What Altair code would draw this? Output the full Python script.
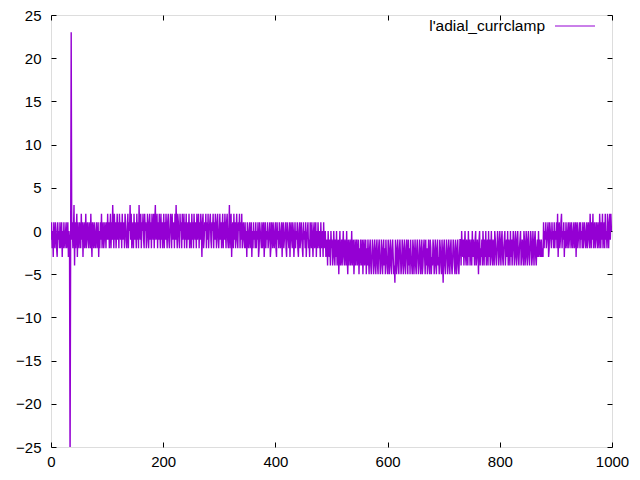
import altair as alt
import pandas as pd

# sample values (x = sample index 0..999)
seg_a = [-1, 1, -2, 0, -3, 1, -1, -2, 1, 0, -2, -3, 1, -1, 0, -2, 1, -2, -1, 1,
         -3, 0, -2, 1, -1, -2, 0, 1, -2, -1, 1, -3, 0, -1]
spike = [-27, -2, 23]
seg_b = [-1, 1, -2, 0, 3, -4, 1, -2, 0, 2, -3, 1, -1, -2, 1, 0, -2, 2, -1, 1,
         -3, 0, 1, -2, -1, 2, -2, 0, 1, -1, -2, 1, 0, -2, 2, -1, -3, 1, 0, -2,
         1, -1, -2, 0, 1, -2, -1, 1, -3, 0, -2, 1, -1, 2, -2, 0, 1, -2, -1, 1,
         0, -2, 1, -1]
seg_c = [2, -1, 1, -2, 0, 2, -2, 1, -1, 3, 0, -2, 2, -1, 1, -2, 0, 2, -1, 1,
         -2, 2, 0, -1, 1, -2, 2, -1, 0, 1, -2, 2, 1, -1, -2, 0, 2, -2, 1, 0,
         3, -1, 2, -2, 0, 1, -2, 2, -1, 1, 0, -2, 2, -1, 1, -2, 3, 0, -1, 2,
         -2, 1, 0, 2, -1, -2, 2, 0, 1, -2, -1, 2, 1, -2, 0, 2, -1, 1, -2, 2,
         0, -1, 2, -2, 1, 3, -1, 0, 2, -2, 1, -1, 2, 0, -2, 2, -1, 1, -2, 0,
         2, -2, 1, -1, 2, 0, -2, 1, 2, -1, -2, 0, 2, 1, -2, 2, -1, 0, 1, -2,
         2, -1, 3, 0, -2, 2, 1, -1, -2, 2, 0, 1, -2, 2, -1, 0, 2, -2, 1, -1,
         2, -2, 0, 1, -1, 2, -2, 1, 0, -2, 2, -1, 1, -2, 2, 0, -1, 1, -2, 2,
         -1, 0, 2, -2, 1, -1, 2, 0, -3, 1, 2, -2, -1, 1, 0, 2, -2, 1, -1, 2,
         -2, 0, 1, 2, -1, -2, 1, 0, 2, -2, 1, -1, 2, 0, -2, 1, 2, -1, -2, 0,
         2, -1, 1, -2, 0, 2, -2, 1, -1, 2, 0, -2, 1, 2, -1, -2, 0, 3, -2, 1,
         2, -3, 0, 1, -2, 2, -1, 1, -2, 0, 2, -1, -2, 1, 0, 2, -2, 1, -1, 2,
         -2, 0, 1, -1, -2]
seg_d = [1, -2, 0, -3, 1, -1, -2, 0, 1, -2, -1, 1, -3, 0, -2, 1, -1, 0, -2, 1,
         -2, 0, -1, 1, -3, -2, 1, 0, -1, -2, 1, -2, 0, 1, -3, -1, 1, -2, 0, -1,
         1, -2, -1, 0, 1, -3, -2, 1, 0, -2, 1, -1, -2, 0, 1, -2, -3, 1, -1, 0,
         -2, 1, 0, -2, -1, 1, -3, 0, 1, -2, -1, 0, 1, -2, -3, 1, 0, -1, -2, 1,
         -3, 0, 1, -1, -2, 1, 0, -3, -1, 1, -2, 0, -1, 1, -2, -3, 0, 1, -2, -1,
         1, 0, -2, -3, 1, -1, 0, -2, 1, -3, -1, 0, 1, -2, -1, -3, 1, 0, -2, 1,
         -1, -3, 0, 1, -2, -1, 1, -3, 0, -2, 1, -1, -2, 0, -3, 1, -2, -1, 0, -3,
         1, -2, -1, 0, -3, -2]
seg_e = [-1, -4, 0, -2, -3, -1, -4, 0, -2, -1, -4, -3, 0, -2, -4, -1, -3, 0, -4, -2,
         -1, -5, -2, 0, -4, -3, -1, -4, -2, 0, -3, -4, -1, -2, -4, 0, -3, -5, -1, -4,
         -2, -1, -4, -3, 0, -4, -2, -1, -5, -3, -1, -4, -2, -1, -4, -3, -1, -5, -2, -4,
         -1, -3, -4, -1, -5, -2, -1, -4, -3]
seg_f = [-1, -5, -2, -4, -1, -3, -5, -2, -1, -4, -5, -3, -1, -2, -5, -4, -1, -3, -5, -2,
         -1, -4, -5, -2, -1, -3, -5, -4, -1, -2, -5, -3, -1, -4, -2, -5, -1, -3, -4, -5,
         -1, -2, -5, -3, -1, -4, -5, -2, -1, -3, -5, -4, -6, -1, -3, -5, -2, -1, -4, -5,
         -2, -1, -3, -5, -4, -1, -2, -5, -3, -1, -4, -5, -2, -1, -3, -5, -1, -4, -2, -5,
         -1, -3, -4, -5, -1, -2, -5, -3, -1, -4, -5, -2, -1, -3, -5, -4, -1, -2, -5, -3,
         -1, -5, -4, -2, -1, -3, -5, -1, -4, -2, -5, -3, -1, -4, -5, -1, -2, -5, -3, -4,
         -1, -2, -5, -4, -1, -3, -5, -2, -1, -4, -3, -5, -1, -2, -4, -5, -1, -3, -6, -2,
         -1, -4, -5, -3, -1, -2, -5, -4, -1, -3, -5, -2, -1, -4, -5, -3, -1, -2, -4, -5,
         -1, -3, -5, -2, -1, -4, -5, -3, -1]
seg_g = [-1, -4, 0, -2, -3, -1, -4, -2, 0, -3, -4, -1, -2, -4, 0, -3, -1, -4, -2, -1,
         -4, 0, -3, -1, -2, -4, -1, 0, -4, -3, -1, -2, -5, -1, 0, -4, -2, -3, -1, -4,
         0, -2, -4, -1, -3, 0, -4, -2, -1, -4, 0, -3, -1, -4, -2, 0, -3, -4, -1, -2,
         -4, 0, -1, -3, -4, -2, 0, -1, -4, -3, 0, -2, -4, -1, 0, -3, -4, -2, -1, 0,
         -4, -2, -1, -3, 0, -4, -1, -2, -4, 0, -3, -1, -4, -2, 0, -1, -4, -3, 0, -2,
         -4, -1, 0, -3, -4, -2, -1, 0, -4, -3, -1, -2, -4, 0, -1, -4, -3, 0, -2, -4,
         -1, 0, -3, -4, -2, 0, -1, -4, -3, 0, -2, -4, -1, 0, -3, -4, -2, -1, -3, 0,
         -3, -1, -2, -3, -1, -3, -2, -3]
seg_h = [1, -2, 0, -1, 1, -2, -1, 0, 1, -3, -2, 1, 0, -1, -2, 1, -1, 0, -2, 1,
         -2, 0, -1, 1, -2, 2, -3, 0, 1, -2, -1, 1, 2, -2, 0, -1, 1, -3, 0, -2,
         1, -1, -2, 0, 1, -2, -1, 1, 0, -2, 1, -1, -2, 0, 1, -2, -1, 1, -3, 0,
         1, -2, -1, 0, 1, -2, 1, -1, 0, -2, 1, -2, -1, 1, 0, -2, -1, 1, -2, 0,
         1, -1, -2, 2, 0, -2, 1, -1, 2, -2, 0, 1, -2, -1, 1, 0, -2, 1, -1, -2,
         2, 0, -2, 1, -1, 2, -2, 0, 1, -2, 2, -1, 0, -2, 2, 1, -2, 0, 2, -1,
         2, 0]

values = seg_a + spike + seg_b + seg_c + seg_d + seg_e + seg_f + seg_g + seg_h
df = pd.DataFrame({"x": list(range(len(values))), "y": values})

x_ticks = [0, 200, 400, 600, 800, 1000]
y_ticks = [-25, -20, -15, -10, -5, 0, 5, 10, 15, 20, 25]
series_name = "l'adial_currclamp"
line_color = "#9400D3"

W, H = 561, 432
FONT = "Liberation Sans"
FS = 15

xs = alt.Scale(domain=[0, 1000], nice=False, zero=False)
ys = alt.Scale(domain=[-25, 25], nice=False, zero=False)


def lab_axis(orient, vals, pad):
    return alt.Axis(orient=orient, values=vals, ticks=False, tickSize=0, domain=False,
                    grid=False, labelPadding=pad, labelFontSize=FS, labelFont=FONT,
                    labelColor="black", labelFlush=False, labelOverlap=False,
                    format="d", title=None)


def tick_axis(orient, vals, off):
    return alt.Axis(orient=orient, values=vals, ticks=True, tickSize=5, tickColor="black",
                    tickWidth=1, domain=False, grid=False, labels=False, offset=off,
                    title=None)


main = alt.Chart(df).mark_line(color=line_color, strokeWidth=1.4, clip=True).encode(
    x=alt.X("x:Q", scale=xs, axis=lab_axis("bottom", x_ticks, 7)),
    y=alt.Y("y:Q", scale=ys, axis=lab_axis("left", y_ticks, 10)),
)

ticks1 = alt.Chart(df).mark_line(opacity=0, clip=True).encode(
    x=alt.X("x:Q", scale=xs, axis=tick_axis("top", x_ticks, -H)),
    y=alt.Y("y:Q", scale=ys, axis=tick_axis("right", y_ticks, -W)),
)

ticks2 = alt.Chart(df).mark_line(opacity=0, clip=True).encode(
    x=alt.X("x:Q", scale=xs, axis=tick_axis("bottom", x_ticks, -H)),
    y=alt.Y("y:Q", scale=ys, axis=tick_axis("left", y_ticks, -W)),
)

one = alt.Data(values=[{"k": 1}])
key_text = alt.Chart(one).mark_text(
    align="right", baseline="middle", fontSize=15.5, font=FONT, color="black"
).encode(x=alt.value(494), y=alt.value(11), text=alt.value(series_name))

key_line = alt.Chart(one).mark_rule(color=line_color, strokeWidth=1).encode(
    x=alt.value(504), x2=alt.value(544), y=alt.value(11)
)

chart = alt.layer(main, ticks1, ticks2, key_text, key_line).resolve_axis(
    x="independent", y="independent"
).properties(
    width=W, height=H,
    autosize=alt.AutoSizeParams(type="none"),
    padding={"left": 43, "top": 7, "right": 20, "bottom": 25},
).configure_view(stroke="black", strokeWidth=1).configure(background="white")

chart.save("out.html", embed_options={"renderer": "svg", "actions": False})
